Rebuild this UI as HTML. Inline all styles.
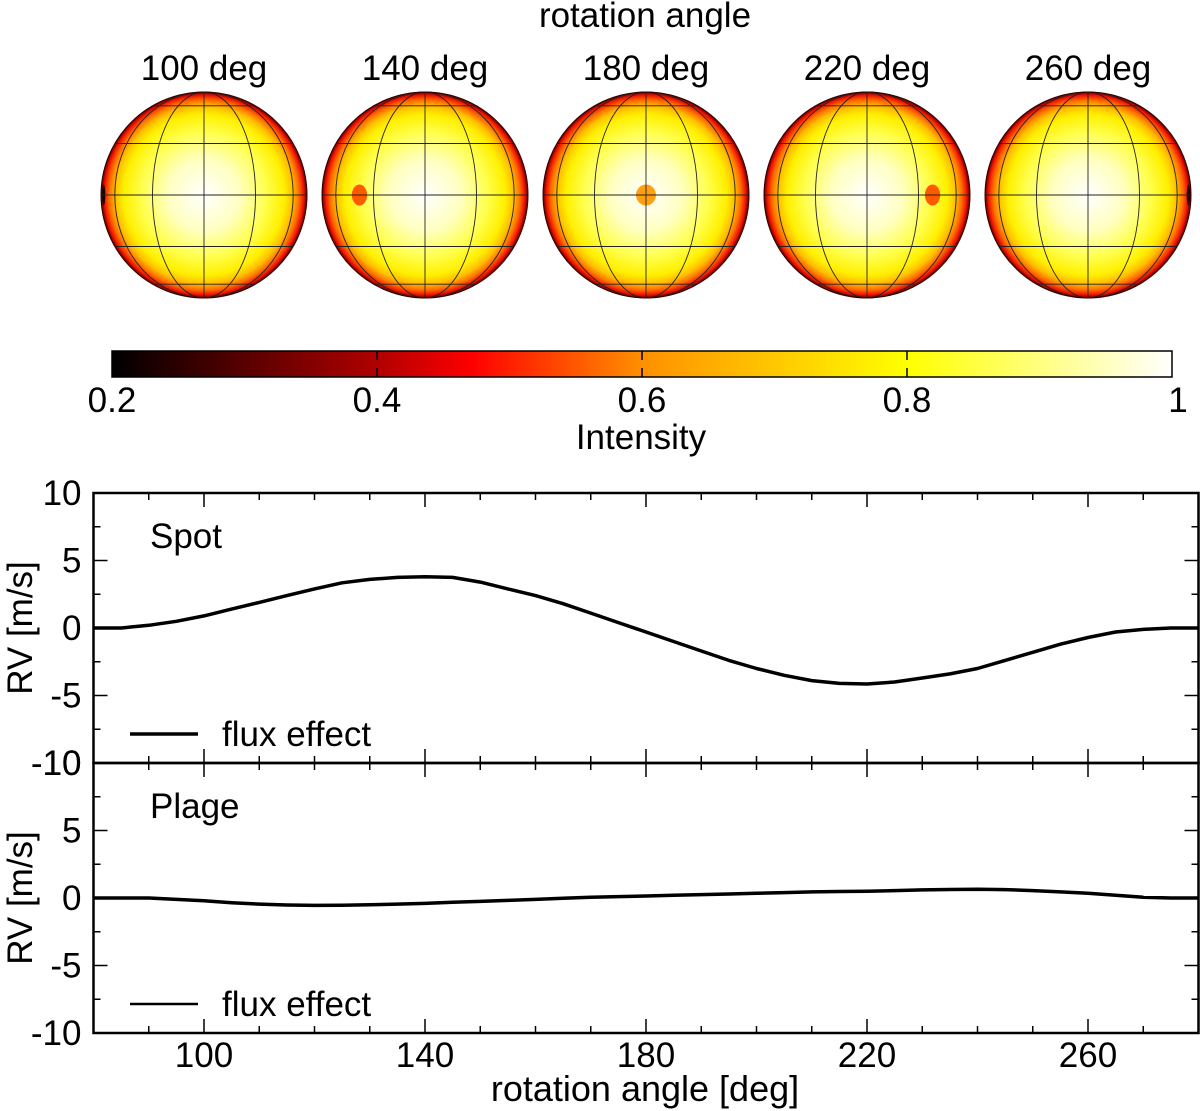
<!DOCTYPE html>
<html><head><meta charset="utf-8"><style>
body{margin:0;background:#fff}
svg{display:block;font-family:"Liberation Sans",sans-serif}
</style></head><body>
<svg width="1200" height="1111" viewBox="0 0 1200 1111">
<defs>
<radialGradient id="limb" cx="50%" cy="50%" r="50%">
<stop offset="0" stop-color="#ffffff"/>
<stop offset="0.35" stop-color="#ffffc0"/>
<stop offset="0.6" stop-color="#ffff50"/>
<stop offset="0.78" stop-color="#fff000"/>
<stop offset="0.86" stop-color="#ffc000"/>
<stop offset="0.92" stop-color="#ff7000"/>
<stop offset="0.97" stop-color="#ee1000"/>
<stop offset="1" stop-color="#500000"/>
</radialGradient>
<linearGradient id="cbar" x1="0" x2="1" y1="0" y2="0">
<stop offset="0" stop-color="#000000"/>
<stop offset="0.25" stop-color="#b00000"/>
<stop offset="0.34" stop-color="#ff0000"/>
<stop offset="0.5" stop-color="#ff9000"/>
<stop offset="0.75" stop-color="#ffff00"/>
<stop offset="1" stop-color="#ffffff"/>
</linearGradient>
</defs>
<text x="645" y="27" font-size="35" text-anchor="middle">rotation angle</text>
<g id="spheres"></g>
<g>
<rect x="112" y="351" width="1060" height="26" fill="url(#cbar)" stroke="#000" stroke-width="1.5"/>
<g id="cbticks"></g>
<text x="641" y="449" font-size="35" text-anchor="middle">Intensity</text>
</g>
<g id="plots"></g>
<text x="645" y="1101" font-size="36" text-anchor="middle">rotation angle [deg]</text>
</svg>
<script>
const NS="http://www.w3.org/2000/svg";
function mk(tag,attrs,parent){const e=document.createElementNS(NS,tag);for(const k in attrs)e.setAttribute(k,attrs[k]);parent.appendChild(e);return e;}
const sphereAngles=[100,140,180,220,260];
const cbTicks=[0.2,0.4,0.6,0.8,1];
const xTicks=[100,140,180,220,260];
const yTicks=[10,5,0,-5,-10];
const angles=[80,85,90,95,100,105,110,115,120,125,130,135,140,145,150,155,160,165,170,175,180,185,190,195,200,205,210,215,220,225,230,235,240,245,250,255,260,265,270,275,280];
const spotRV=[0,0,0.2,0.5,0.9,1.4,1.9,2.4,2.9,3.35,3.6,3.75,3.8,3.75,3.4,2.9,2.4,1.8,1.1,0.4,-0.3,-1.0,-1.7,-2.4,-3.0,-3.5,-3.9,-4.1,-4.15,-4.0,-3.7,-3.4,-3.0,-2.4,-1.8,-1.2,-0.7,-0.3,-0.1,0,0];
const plageRV=[0,0,0,-0.1,-0.2,-0.35,-0.45,-0.52,-0.55,-0.53,-0.5,-0.45,-0.4,-0.32,-0.25,-0.18,-0.1,-0.02,0.05,0.1,0.15,0.2,0.25,0.3,0.35,0.4,0.45,0.48,0.5,0.55,0.6,0.63,0.65,0.62,0.55,0.45,0.35,0.2,0.05,0,0];

const sx=v=>93.5+(v-80)*5.525;
const sg=document.getElementById('spheres');
sphereAngles.forEach((a,i)=>{
  const cx=sx(a), cy=195, R=103;
  const g=mk('g',{},sg);
  
  
  const t=mk('text',{x:cx,y:80,'font-size':35,'text-anchor':'middle'},g);t.textContent=a+' deg';
  
  
  mk('circle',{cx,cy,r:R,fill:'url(#limb)'},g);
  const lon=(a-180)*Math.PI/180;
  if(Math.cos(lon)>-0.05){
    const px=cx+R*Math.sin(lon)*0.99, w=Math.max(1.5,10*Math.cos(lon));
    const col=Math.abs(a-180)<5?'#ffa010':'#ff5a00';
    const sp=mk('ellipse',{cx:px,cy,rx:w,ry:10.5,fill:Math.cos(lon)<0.3?'#200000':col},g);
    
    
  }
  const ln={stroke:'#222','stroke-width':0.9,fill:'none'};
  [30,60].forEach(l=>{const s=Math.sin(l*Math.PI/180),c=Math.cos(l*Math.PI/180);
    [-1,1].forEach(d=>{mk('line',Object.assign({x1:cx-R*c,x2:cx+R*c,y1:cy+d*R*s,y2:cy+d*R*s},ln),g);});
    mk('ellipse',Object.assign({cx,cy,rx:R*s,ry:R},ln),g);});
  mk('line',Object.assign({x1:cx-R,x2:cx+R,y1:cy,y2:cy},ln),g);
  mk('line',Object.assign({x1:cx,x2:cx,y1:cy-R,y2:cy+R},ln),g);
  mk('circle',{cx,cy,r:R,fill:'none',stroke:'#300',"stroke-width":1},g);
});
const cb=document.getElementById('cbticks');
cbTicks.forEach(v=>{const x=112+(v-0.2)/0.8*1060;
  if(v>0.2&&v<1){mk('line',{x1:x,x2:x,y1:351,y2:377,stroke:'#000','stroke-width':1.5,'stroke-dasharray':'9,8'},cb);}
  const t=mk('text',{x:v==1?1178:x,y:412,'font-size':35,'text-anchor':'middle'},cb);t.textContent=String(v);
  
  
});
const pg=document.getElementById('plots');
function panel(top,bot,name,label,data){
  const g=mk('g',{},pg);
  
  
  const sy=v=>top+(10-v)/20*(bot-top);
  const L=sx(80),Rr=sx(280);
  mk('rect',{x:L,y:top,width:Rr-L,height:bot-top,fill:'none',stroke:'#000','stroke-width':2.5},g);
  for(let v=-10;v<=10;v+=2.5){const y=sy(v),len=(v%5===0)?14:7;
    mk('line',{x1:L,x2:L+len,y1:y,y2:y,stroke:'#000','stroke-width':1.5},g);
    mk('line',{x1:Rr,x2:Rr-len,y1:y,y2:y,stroke:'#000','stroke-width':1.5},g);}
  yTicks.forEach(v=>{const t=mk('text',{x:L-12,y:sy(v)+12,'font-size':35,'text-anchor':'end'},g);t.textContent=String(v);
    
    });
  for(let a=90;a<280;a+=10){const x=sx(a),len=(a%40===20)?14:7;
    mk('line',{x1:x,x2:x,y1:bot,y2:bot-len,stroke:'#000','stroke-width':1.5},g);
    mk('line',{x1:x,x2:x,y1:top,y2:top+len,stroke:'#000','stroke-width':1.5},g);}
  const yl=mk('text',{x:0,y:0,'font-size':35,'text-anchor':'middle',transform:`translate(32,${(top+bot)/2}) rotate(-90)`},g);yl.textContent='RV [m/s]';
  
  
  const lb=mk('text',{x:150,y:top+55,'font-size':35},g);lb.textContent=label;
  
  
  const p=mk('path',{d:angles.map((a,i)=>(i?'L':'M')+sx(a).toFixed(1)+','+sy(data[i]).toFixed(1)).join(''),fill:'none',stroke:'#000','stroke-width':3.5,'stroke-linejoin':'round'},g);
  
  
  const lg=mk('g',{},g);
  
  
  mk('line',{x1:130,x2:198,y1:bot-29,y2:bot-29,stroke:'#000','stroke-width':name=='spot'?3.5:2.5},lg);
  const lt=mk('text',{x:222,y:bot-17,'font-size':35},lg);lt.textContent='flux effect';
}
panel(493,763,'spot','Spot',spotRV);
panel(763,1033,'plage','Plage',plageRV);
xTicks.forEach(a=>{const t=mk('text',{x:sx(a),y:1067,'font-size':35,'text-anchor':'middle'},pg);t.textContent=String(a);
  
  });
</script>
</body></html>
